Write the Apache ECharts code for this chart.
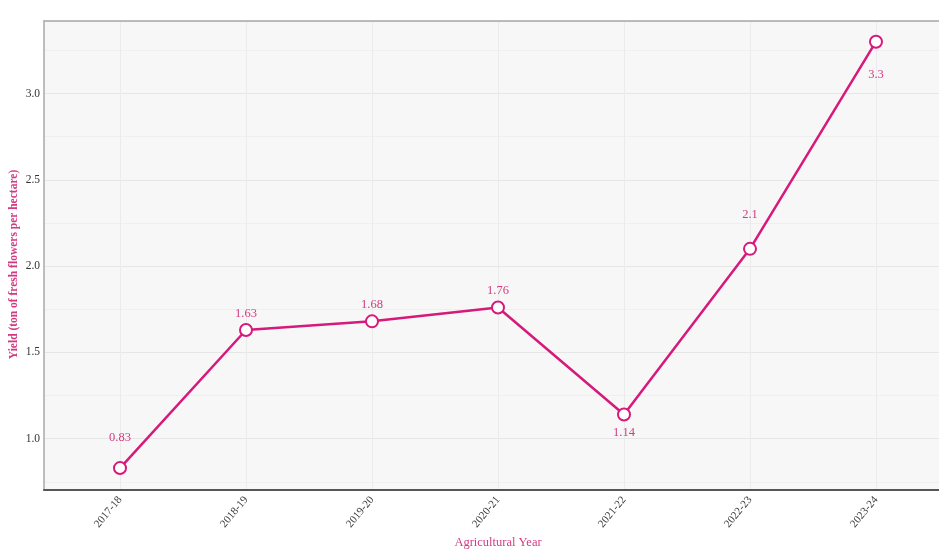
<!DOCTYPE html>
<html>
<head>
<meta charset="utf-8">
<script src="https://cdn.jsdelivr.net/npm/echarts@6/dist/echarts.min.js"></script>
<style>html,body{margin:0;padding:0;background:#fff;}#c{width:939px;height:550px;}</style>
</head>
<body>
<div id="c"></div>
<script>
const categories = ['2017-18', '2018-19', '2019-20', '2020-21', '2021-22', '2022-23', '2023-24'];
const yieldValues = [0.83, 1.63, 1.68, 1.76, 1.14, 2.1, 3.3];
const xAxisTitle = 'Agricultural Year';
const yAxisTitle = 'Yield (ton of fresh flowers per hectare)';

// label placement styling (not data)
const labelPlacement = [
  ['top', 17], ['top', 3], ['top', 3], ['top', 3], ['bottom', 5], ['top', 21], ['bottom', 20]
];

const PINK = '#d6197a';
const LABEL_PINK = '#d23a82';
const FONT = '"Liberation Serif", "DejaVu Serif", serif';
const Y_MIN = 0.703, Y_MAX = 3.42;

const seriesData = yieldValues.map((v, i) => ({
  value: v,
  label: { position: labelPlacement[i][0], distance: labelPlacement[i][1] }
}));

const hiddenY = { type: 'value', min: Y_MIN, max: Y_MAX, splitNumber: 5,
  axisLine: { show: false }, axisTick: { show: false }, axisLabel: { show: false },
  splitLine: { show: false } };

const chart = echarts.init(document.getElementById('c'), null, { renderer: 'canvas' });
chart.setOption({
  animation: false,
  backgroundColor: '#ffffff',
  grid: [
    { left: 44, right: 0, top: 21, bottom: 60, show: true, backgroundColor: '#f7f7f7', borderWidth: 0,
      containLabel: false, outerBoundsMode: 'none' },
    { left: 120, right: 63, top: 21, bottom: 60, containLabel: false, outerBoundsMode: 'none' }
  ],
  xAxis: [
    { gridIndex: 0, type: 'value', min: 0, max: 1, position: 'bottom',
      axisLine: { show: true, lineStyle: { color: '#555', width: 2 } },
      axisTick: { show: false }, axisLabel: { show: false }, splitLine: { show: false } },
    { gridIndex: 0, type: 'value', min: 0, max: 1, position: 'top',
      axisLine: { show: true, lineStyle: { color: '#a8a8a8', width: 1.5 } },
      axisTick: { show: false }, axisLabel: { show: false }, splitLine: { show: false } },
    { gridIndex: 1, type: 'category', data: categories, boundaryGap: false,
      axisLine: { show: false }, axisTick: { show: false },
      axisLabel: { rotate: 50, color: '#3a3a3a', fontFamily: FONT, fontSize: 11, margin: 8 },
      splitLine: { show: true, lineStyle: { color: '#ebebeb', width: 1 } },
      name: xAxisTitle, nameLocation: 'middle', nameGap: 46, nameMoveOverlap: false,
      nameTextStyle: { color: LABEL_PINK, fontFamily: FONT, fontSize: 12.5 } }
  ],
  yAxis: [
    { gridIndex: 0, type: 'value', min: Y_MIN, max: Y_MAX, splitNumber: 5,
      axisLine: { show: true, lineStyle: { color: '#a8a8a8', width: 1.5 } },
      axisTick: { show: false },
      axisLabel: { color: '#333', fontFamily: FONT, fontSize: 11.5, margin: 4,
        formatter: v => (Math.abs(v * 2 - Math.round(v * 2)) < 1e-6 ? v.toFixed(1) : '') },
      splitLine: { show: true, lineStyle: { color: '#e6e6e6', width: 1 } },
      minorTick: { show: false, splitNumber: 2 },
      minorSplitLine: { show: true, lineStyle: { color: '#efefef', width: 1 } },
      name: yAxisTitle, nameLocation: 'middle', nameGap: 24, nameRotate: 90, nameMoveOverlap: false,
      nameTextStyle: { color: LABEL_PINK, fontFamily: FONT, fontSize: 11.5, fontWeight: 'bold',
        padding: [0, 18, 0, 0] } },
    Object.assign({ gridIndex: 1 }, hiddenY)
  ],
  series: [{
    type: 'line', xAxisIndex: 2, yAxisIndex: 1,
    data: seriesData,
    symbol: 'circle', symbolSize: 12,
    lineStyle: { color: PINK, width: 2.5 },
    itemStyle: { color: '#ffffff', borderColor: PINK, borderWidth: 2 },
    label: { show: true, color: LABEL_PINK, fontFamily: FONT, fontSize: 12.5 }
  }]
});
</script>
</body>
</html>
